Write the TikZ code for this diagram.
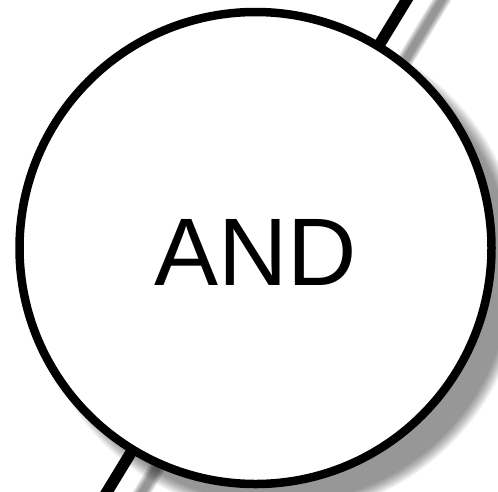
\documentclass[tikz,border=0pt]{standalone}
\usepackage{fontspec}
\setmainfont{Liberation Sans}
\tikzset{
  gatecircle/.style={circle, draw=black, fill=white, line width=8.5pt, minimum size=472pt, inner sep=0pt},
  wire/.style={draw=black, line width=11.4pt},
  gatetext/.style={font=\fontsize{96}{110}\selectfont, inner sep=0pt}
}
\begin{document}
\begin{tikzpicture}[x=1pt,y=-1pt]
\useasboundingbox (0,0) rectangle (498,491);
\clip (0,0) rectangle (498,491);
% positions
\coordinate (c) at (255.5,248);
\coordinate (wtop) at (436.7,-49.6);
\coordinate (wbot) at (74.3,545.6);
% wire shadow (blurred)
\foreach \w in {17,16,15,14,13,12,11,10,9,8,7,6}{
  \draw[black, opacity=0.044, line width=\w pt] ([shift={(22,22)}]wtop) -- ([shift={(22,22)}]wbot);
}
% wire
\draw[wire] (wtop) -- (wbot);
% circle shadow (blurred)
\foreach \r in {246,245,244,243,242,241,240,239,238,237,236,235,234}{
  \fill[black, opacity=0.0385] ([shift={(22,22)}]c) circle[radius=\r pt];
}
% gate
\node[gatecircle] (and) at (c) {};
\node[gatetext] (andlabel) at ([yshift=-4.5pt]and.center) {AND};
\end{tikzpicture}
\end{document}
